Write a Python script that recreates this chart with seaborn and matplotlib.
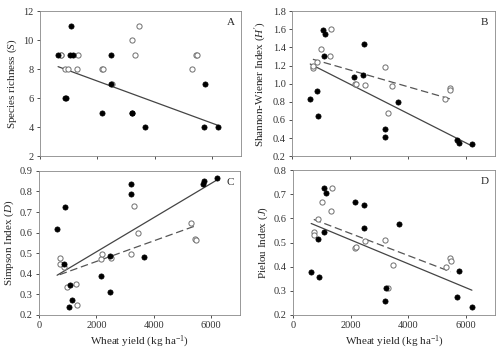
import numpy as np
import pandas as pd
import matplotlib
matplotlib.use('Agg')
import matplotlib.pyplot as plt
import seaborn as sns

# wheat yield of the sites (kg/ha), filled and open symbols
x_filled = [630, 860, 900, 1060, 1090, 1150, 2150, 2460, 2475, 3205, 3220, 3660, 5700, 5755, 6200]
x_open = [720, 735, 875, 990, 1300, 1340, 2160, 2200, 2500, 3200, 3300, 3450, 5290, 5440, 5460]

# A: species richness
rich_filled = [9, 6, 6, 9, 11, 9, 5, 7, 9, 5, 5, 4, 4, 7, 4]
rich_open = [9, 9, 8, 8, 8, 9, 8, 8, 7, 10, 9, 11, 8, 9, 9]
# B: Shannon-Wiener
shan_filled = [0.83, 0.92, 0.64, 1.59, 1.31, 1.55, 1.07, 1.09, 1.44, 0.50, 0.41, 0.80, 0.38, 0.35, 0.33]
shan_open = [1.17, 1.20, 1.24, 1.38, 1.31, 1.60, 1.00, 1.00, 0.99, 1.18, 0.68, 0.97, 0.83, 0.95, 0.93]
# C: Simpson
simp_filled = [0.615, 0.446, 0.723, 0.237, 0.345, 0.272, 0.388, 0.485, 0.311, 0.787, 0.835, 0.481, 0.834, 0.850, 0.864]
simp_open = [0.449, 0.477, 0.433, 0.337, 0.348, 0.248, 0.473, 0.494, 0.478, 0.496, 0.729, 0.600, 0.647, 0.570, 0.565]
# D: Pielou
piel_filled = [0.379, 0.513, 0.357, 0.724, 0.545, 0.705, 0.666, 0.560, 0.657, 0.258, 0.312, 0.575, 0.272, 0.383, 0.234]
piel_open = [0.543, 0.530, 0.599, 0.666, 0.629, 0.728, 0.476, 0.480, 0.508, 0.510, 0.312, 0.407, 0.400, 0.434, 0.425]

sns.set_style("ticks")
plt.rcParams['font.family'] = ['Liberation Serif', 'DejaVu Serif']
plt.rcParams['mathtext.fontset'] = 'custom'
plt.rcParams['mathtext.rm'] = 'Liberation Serif'
plt.rcParams['mathtext.it'] = 'Liberation Serif:italic'

fig = plt.figure(figsize=(5, 3.59), dpi=100)
pos = {
    'A': [0.080, 0.565, 0.402, 0.404],
    'B': [0.584, 0.565, 0.406, 0.404],
    'C': [0.078, 0.123, 0.402, 0.401],
    'D': [0.586, 0.123, 0.404, 0.403],
}

panels = [
    ('A', rich_filled, rich_open, r'Species richness ($S$)', (2, 12), np.arange(2, 13, 2), False, '%d'),
    ('B', shan_filled, shan_open, r"Shannon-Wiener Index ($H'$)", (0.2, 1.8), np.arange(0.2, 1.81, 0.2), True, '%.1f'),
    ('C', simp_filled, simp_open, r'Simpson Index ($D$)', (0.2, 0.9), np.arange(0.2, 0.91, 0.1), True, '%.1f'),
    ('D', piel_filled, piel_open, r'Pielou Index ($J$)', (0.2, 0.8), np.arange(0.2, 0.81, 0.1), True, '%.1f'),
]

for name, yf, yo, ylab, ylim, yticks, dashed, fmt in panels:
    ax = fig.add_axes(pos[name])
    df_f = pd.DataFrame({'x': x_filled, 'y': yf})
    df_o = pd.DataFrame({'x': x_open, 'y': yo})
    sns.regplot(data=df_f, x='x', y='y', scatter=False, ci=None, ax=ax,
                line_kws={'color': '#444444', 'lw': 0.9})
    if dashed:
        sns.regplot(data=df_o, x='x', y='y', scatter=False, ci=None, ax=ax,
                    line_kws={'color': '#555555', 'lw': 0.9, 'ls': (0, (6, 3))})
    sns.scatterplot(data=df_o, x='x', y='y', ax=ax, s=14, facecolor='white',
                    edgecolor='#6e6e6e', linewidth=0.7, zorder=3)
    sns.scatterplot(data=df_f, x='x', y='y', ax=ax, s=14, color='black',
                    edgecolor='black', linewidth=0.5, zorder=4)
    ax.set_xlim(0, 7000)
    ax.set_ylim(*ylim)
    ax.set_xticks([0, 2000, 4000, 6000])
    ax.set_yticks(yticks)
    ax.yaxis.set_major_formatter(matplotlib.ticker.FormatStrFormatter(fmt))
    ax.tick_params(labelsize=7.5, length=2.5, width=0.6, colors='#333333', pad=2)
    ax.set_ylabel(ylab, fontsize=8, labelpad=3)
    if name in ('A', 'B'):
        ax.set_xticklabels([])
        ax.set_xlabel('')
    else:
        ax.set_xlabel(r'Wheat yield (kg ha$^{-1}$)', fontsize=8, labelpad=3)
    for sp in ax.spines.values():
        sp.set_visible(True)
        sp.set_linewidth(0.6)
        sp.set_color('#888888')
    ax.text(0.95, 0.92, name, transform=ax.transAxes, ha='center', va='center', fontsize=8)

fig.savefig('out.png', dpi=100)
